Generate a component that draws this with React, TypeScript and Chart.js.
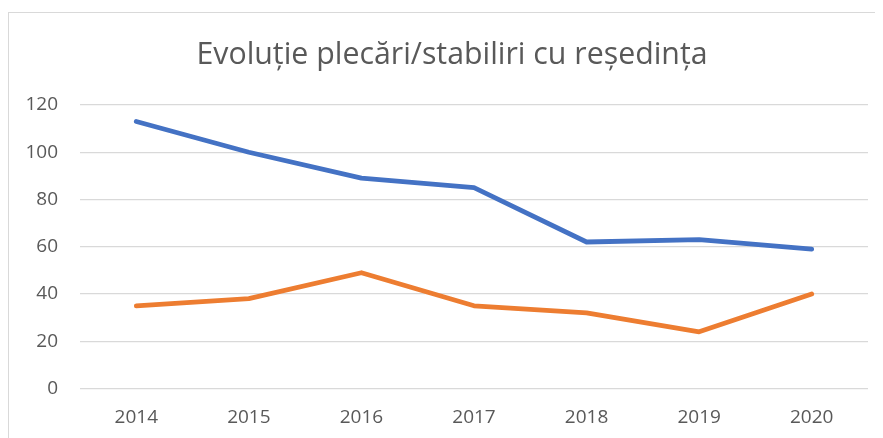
import React, { useEffect, useRef } from "react";
import { Chart, registerables } from "chart.js";

Chart.register(...registerables);

const categories = ["2014", "2015", "2016", "2017", "2018", "2019", "2020"];
const plecari = [113, 100, 89, 85, 62, 63, 59];
const stabiliri = [35, 38, 49, 35, 32, 24, 40];
const yMin = 0;
const yMax = 120;
const yStep = 20;
const titleText = "Evoluție plecări/stabiliri cu reședința";

export default function App() {
  const ref = useRef<HTMLCanvasElement | null>(null);

  useEffect(() => {
    if (!ref.current) return;
    const chart = new Chart(ref.current, {
      type: "line",
      data: {
        labels: categories,
        datasets: [
          {
            label: "Plecări",
            data: plecari,
            borderColor: "#4472C4",
            backgroundColor: "#4472C4",
            borderWidth: 4.8,
            pointRadius: 0,
            borderCapStyle: "round",
            borderJoinStyle: "round",
            tension: 0,
            yAxisID: "y",
          },
          {
            label: "Stabiliri",
            data: stabiliri,
            borderColor: "#ED7D31",
            backgroundColor: "#ED7D31",
            borderWidth: 4.8,
            pointRadius: 0,
            borderCapStyle: "round",
            borderJoinStyle: "round",
            tension: 0,
            yAxisID: "y",
          },
        ],
      },
      options: {
        animation: false,
        responsive: false,
        maintainAspectRatio: false,
        layout: { padding: { left: 16, right: 4, top: 0, bottom: 0 } },
        plugins: {
          legend: { display: false },
          tooltip: { enabled: false },
          title: {
            display: true,
            text: titleText,
            color: "#595959",
            font: { family: "'Open Sans'", size: 30.3, weight: "normal" },
            padding: { top: 24, bottom: 31.6 },
          },
        },
        scales: {
          x: {
            offset: true,
            grid: { display: false, drawTicks: false, offset: true },
            border: { display: false },
            ticks: {
              color: "#595959",
              font: { family: "'Open Sans'", size: 19 },
              padding: 18,
              maxRotation: 0,
            },
            afterFit: (s: any) => {
              s.height = 49.5;
            },
          },
          y: {
            min: yMin,
            max: yMax,
            grid: { color: "#d9d9d9", lineWidth: 1.3, drawTicks: false },
            border: { display: false },
            ticks: {
              stepSize: yStep,
              color: "#595959",
              font: { family: "'Open Sans'", size: 19 },
              padding: 22,
            },
            afterFit: (s: any) => {
              s.width = 55;
            },
          },
          yRight: {
            position: "right",
            display: true,
            min: yMin,
            max: yMax,
            grid: { display: false, drawTicks: false },
            border: { display: false },
            ticks: { display: false },
            afterFit: (s: any) => {
              s.width = 11;
            },
          },
        },
      },
    });
    return () => chart.destroy();
  }, []);

  return (
    <div
      style={{
        marginTop: 4,
        width: 875,
        height: 426,
        borderLeft: "1.5px solid #d9d9d9",
        borderTop: "1.5px solid #d9d9d9",
        boxSizing: "border-box",
        position: "relative",
        background: "#fff",
      }}
    >
      <canvas
        ref={ref}
        width={874}
        height={425}
        style={{ position: "absolute", left: 0, top: 0, width: 874, height: 425 }}
      />
    </div>
  );
}
